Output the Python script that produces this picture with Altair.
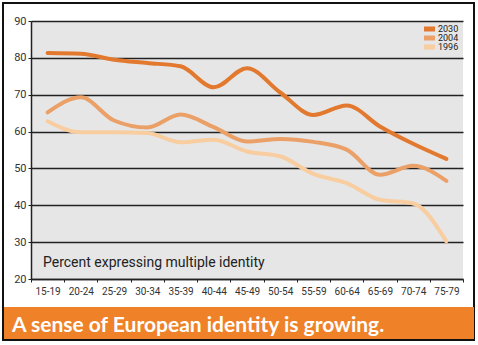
import altair as alt
import pandas as pd

ages = ["15-19", "20-24", "25-29", "30-34", "35-39", "40-44", "45-49",
        "50-54", "55-59", "60-64", "65-69", "70-74", "75-79"]
v2030 = [81.3, 81.1, 79.5, 78.6, 77.7, 72.0, 77.2, 70.6, 64.5, 67.1, 61.4, 56.7, 52.6]
v2004 = [65.2, 69.3, 63.0, 61.1, 64.6, 61.2, 57.3, 58.0, 57.2, 55.1, 48.3, 50.7, 46.6]
v1996 = [62.8, 59.8, 59.8, 59.6, 57.1, 57.8, 54.6, 53.3, 48.5, 46.0, 41.5, 40.5, 30.2]
series = ["2030", "2004", "1996"]
colors = ["#E2792F", "#EBA068", "#F8CDA0"]

rows = []
for s, vals in zip(series, [v2030, v2004, v1996]):
    for a, v in zip(ages, vals):
        rows.append({"age": a, "value": v, "series": s})
df = pd.DataFrame(rows)

FONT = "Roboto"

# decorations: outer frame and bottom banner
frame = alt.Chart(pd.DataFrame({"k": [0]})).mark_rect(
    fill="transparent", stroke="#111", strokeWidth=2, clip=False
).encode(x=alt.value(-28), x2=alt.value(443), y=alt.value(-18), y2=alt.value(319))

banner = alt.Chart(pd.DataFrame({"k": [0]})).mark_rect(
    fill="#EF8128", clip=False
).encode(x=alt.value(-27), x2=alt.value(443), y=alt.value(286), y2=alt.value(318))

banner_text = alt.Chart(pd.DataFrame({"t": ["A sense of European identity is growing."]})).mark_text(
    color="white", font="Lato", fontWeight="bold", fontSize=21, align="left",
    baseline="alphabetic", clip=False
).encode(x=alt.value(-19), y=alt.value(311), text="t:N")

note = alt.Chart(pd.DataFrame({"t": ["Percent expressing multiple identity"]})).mark_text(
    color="#222", font=FONT, fontSize=14, align="left", baseline="alphabetic"
).encode(x=alt.value(12), y=alt.value(246), text="t:N")

# compact custom legend (tight rows as in the original)
legend_layers = []
for i, (s, c) in enumerate(zip(series, colors)):
    yy = 8 + i * 9
    ld = pd.DataFrame({"series": [s]})
    legend_layers.append(
        alt.Chart(ld).mark_rule(color=c, strokeWidth=5).encode(
            x=alt.value(393), x2=alt.value(404), y=alt.value(yy), y2=alt.value(yy))
    )
    legend_layers.append(
        alt.Chart(ld).mark_text(font=FONT, fontSize=9, color="#222", align="left",
                                baseline="middle").encode(
            x=alt.value(407), y=alt.value(yy), text="series:N")
    )

lines = alt.Chart(df).mark_line(
    interpolate="monotone", strokeWidth=4, strokeCap="round"
).encode(
    x=alt.X("age:N", sort=ages, bandPosition=0.5,
            scale=alt.Scale(type="band", paddingInner=0, paddingOuter=0),
            axis=alt.Axis(title=None, labelAngle=0, tickBand="extent", tickSize=3,
                          tickColor="#222", domainColor="#222", domainWidth=1.5,
                          labelFont=FONT, labelFontSize=10, labelColor="#333",
                          labelPadding=4, grid=False)),
    y=alt.Y("value:Q", scale=alt.Scale(domain=[20, 90], nice=False, zero=False),
            axis=alt.Axis(title=None, values=[20, 30, 40, 50, 60, 70, 80, 90],
                          tickSize=3, tickColor="#222", domainColor="#222", domainWidth=1.5,
                          gridColor="#222", gridWidth=1.3, grid=True,
                          labelFont=FONT, labelFontSize=11, labelColor="#333",
                          labelPadding=2)),
    color=alt.Color("series:N", sort=series,
                    scale=alt.Scale(domain=series, range=colors),
                    legend=None),
    order=alt.Order("series:N")
)

chart = alt.layer(frame, banner, banner_text, note, lines, *legend_layers).properties(
    width=432, height=258,
    padding={"left": 31, "top": 21, "right": 15, "bottom": 66},
    autosize=alt.AutoSizeParams(type="none"),
    background="white"
).configure_view(stroke=None, fill="#E6E6E6")

chart.save("out.html", embed_options={"renderer": "svg", "actions": False})
